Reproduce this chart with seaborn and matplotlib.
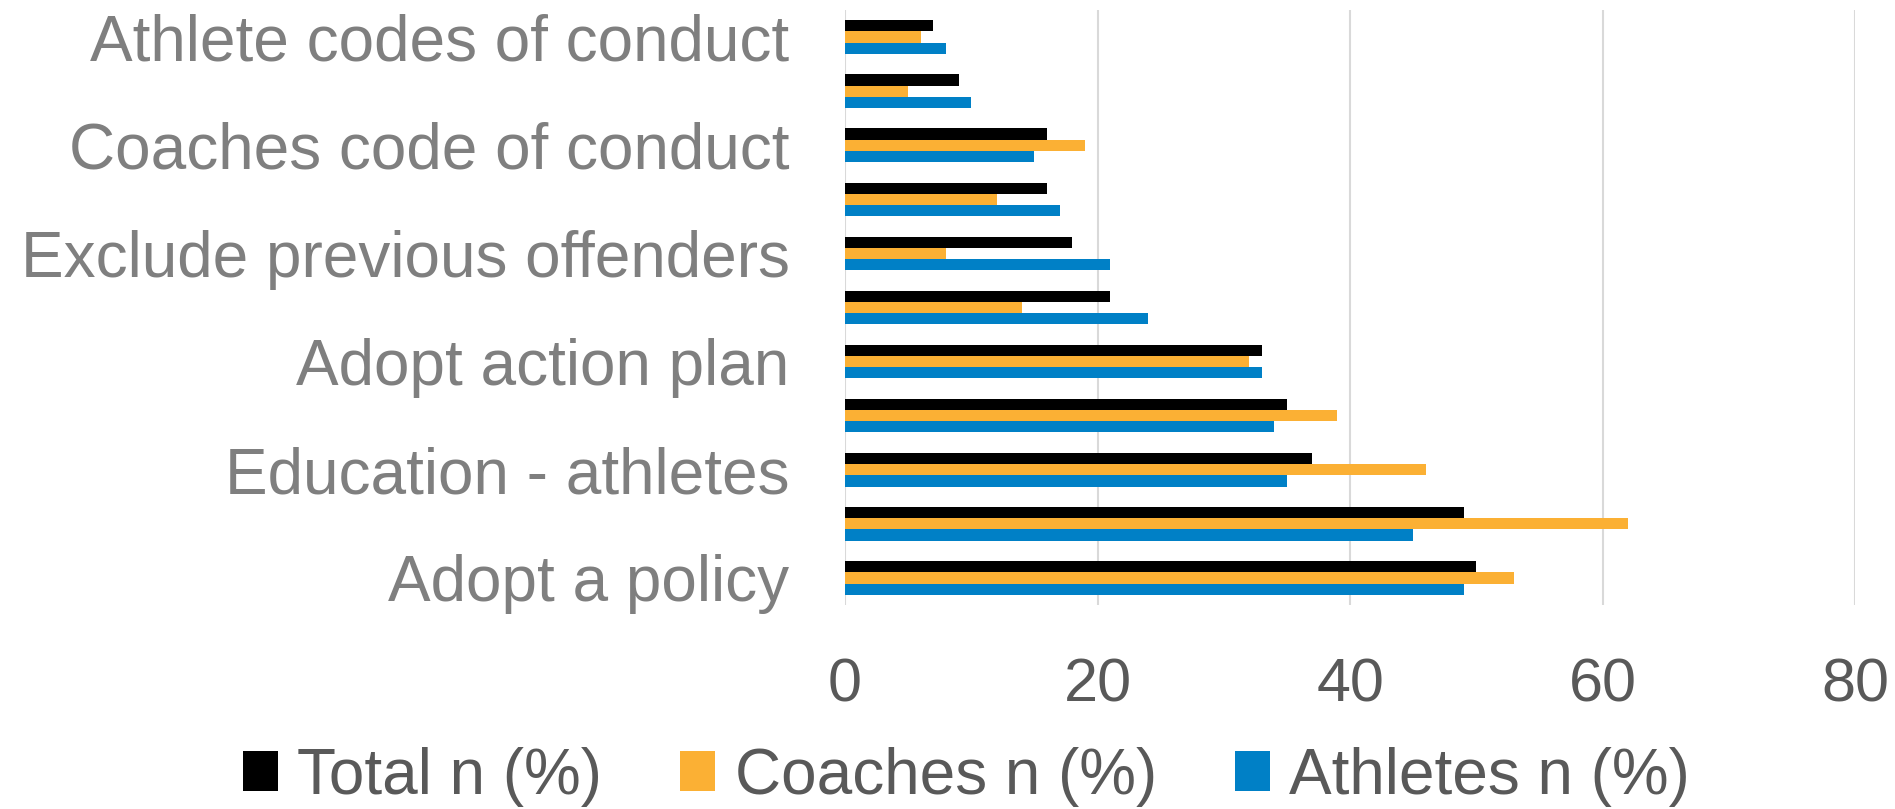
import pandas as pd
import matplotlib
matplotlib.use("Agg")
import matplotlib.pyplot as plt
import seaborn as sns

# categories top -> bottom (every other label is hidden on the chart)
categories = [
    "Athlete codes of conduct", "Parent codes of conduct",
    "Coaches code of conduct", "Background checks",
    "Exclude previous offenders", "Reporting procedure",
    "Adopt action plan", "Welfare officer",
    "Education - athletes", "Education - coaches",
    "Adopt a policy",
]
shown_labels = [
    "Athlete codes of conduct", "",
    "Coaches code of conduct", "",
    "Exclude previous offenders", "",
    "Adopt action plan", "",
    "Education - athletes", "",
    "Adopt a policy",
]
total = [7, 9, 16, 16, 18, 21, 33, 35, 37, 49, 50]
coaches = [6, 5, 19, 12, 8, 14, 32, 39, 46, 62, 53]
athletes = [8, 10, 15, 17, 21, 24, 33, 34, 35, 45, 49]

series = ["Total n (%)", "Coaches n (%)", "Athletes n (%)"]
colors = ["#000000", "#FBB034", "#0080C6"]

df = pd.concat([
    pd.DataFrame({"category": categories, "value": total, "series": series[0]}),
    pd.DataFrame({"category": categories, "value": coaches, "series": series[1]}),
    pd.DataFrame({"category": categories, "value": athletes, "series": series[2]}),
])

sns.set_style("white")
plt.rcParams["font.family"] = ["Liberation Sans", "DejaVu Sans"]

fig = plt.figure(figsize=(18.95, 8.09), dpi=100)
ax = fig.add_axes([0.4459, 0.2522, 0.979 - 0.4459, 0.9876 - 0.2522])

sns.barplot(data=df, y="category", x="value", hue="series", order=categories,
            hue_order=series, palette=colors, orient="h", width=0.62,
            saturation=1, linewidth=0, ax=ax)

ax.set_xlim(0, 80)
ax.set_ylim(10.5, -0.5)
ax.set_xticks([0, 20, 40, 60, 80])
ax.set_yticks(range(len(categories)))
ax.set_yticklabels(shown_labels)
ax.set_xlabel("")
ax.set_ylabel("")
ax.grid(axis="x", color="#D9D9D9", linewidth=1.5)
ax.set_axisbelow(True)
for s in ax.spines.values():
    s.set_visible(False)
ax.tick_params(axis="x", length=0, pad=38, labelsize=44, labelcolor="#595959")
ax.tick_params(axis="y", length=0, pad=40, labelsize=46, labelcolor="#7F7F7F")

handles, labels = ax.get_legend_handles_labels()
ax.legend_.remove()
fig.legend(handles, labels, loc="center", bbox_to_anchor=(0.51, 0.04), ncol=3,
           frameon=False, fontsize=46, handlelength=0.55, handleheight=0.6,
           handletextpad=0.3, columnspacing=1.22, labelcolor="#595959")

fig.savefig("out.png", dpi=100)
